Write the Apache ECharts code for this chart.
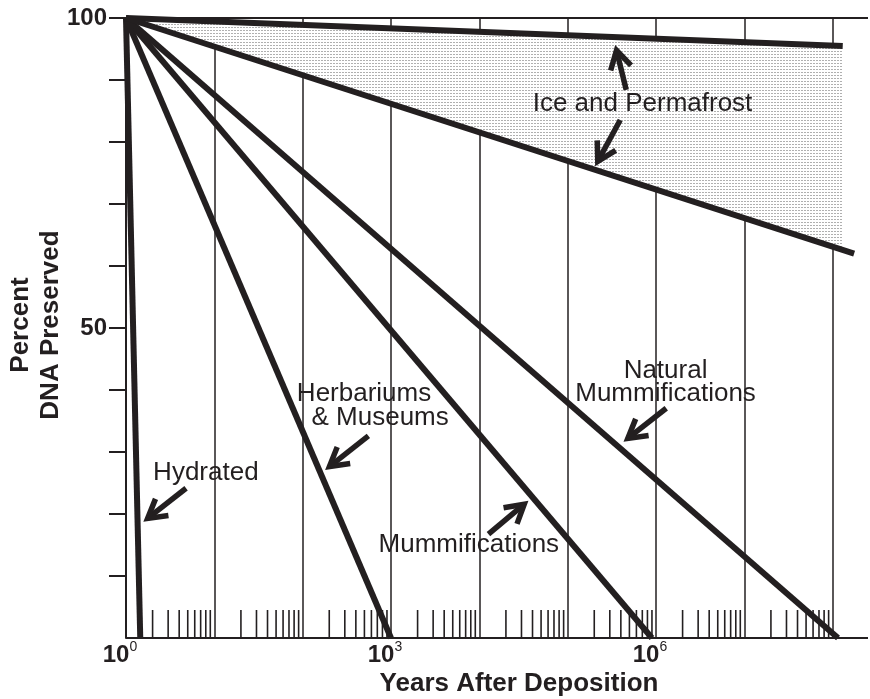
<!DOCTYPE html>
<html>
<head>
<meta charset="utf-8">
<title>DNA preservation over time</title>
<script src="https://cdn.jsdelivr.net/npm/echarts@6/dist/echarts.min.js"></script>
<style>
  html, body { margin: 0; padding: 0; background: #ffffff; }
  #chart { width: 870px; height: 699px; }
</style>
</head>
<body>
<div id="chart"></div>
<script>
// ---- Data: years after deposition vs. percent of DNA preserved ----
const hydratedYears = [1, 1.45];
const hydratedPct = [100, 0];
const herbariumYears = [1, 1000];
const herbariumPct = [100, 0];
const mummificationYears = [1, 9e5];
const mummificationPct = [100, 0];
const naturalMummYears = [1, 1.15e8];
const naturalMummPct = [100, 0];
const iceUpperYears = [1, 1.3e8];
const iceUpperPct = [100, 95.5];
const iceLowerYears = [1, 1.75e8];
const iceLowerPct = [100, 62];

// ---- Axis ticks ----
const xMaxExponent = 8.4;                 // axis runs 10^0 .. 10^8.4 years
const labelledExponents = [0, 3, 6];      // decades that carry a "10^n" label
const minorTickDecades = [0, 1, 2, 3, 4, 5, 6, 7];
const minorTickMultipliers = [2, 3, 4, 5, 6, 7, 8, 9];
const yTickValues = [10, 20, 30, 40, 50, 60, 70, 80, 90, 100];
const yTickLabels = [50, 100];

// ---- Annotations (x as log10 of years, y as percent) ----
const noteTexts = ['Ice and Permafrost', 'Natural\nMummifications', 'Herbariums', '& Museums', 'Hydrated', 'Mummifications'];
const noteAnchors = [[5.847, 86.1], [6.108, 41.2], [2.695, 39.35], [2.877, 35.45], [0.904, 26.7], [3.881, 15.1]];
// each arrow: [tailX, tailY, tipX, tipY]
const arrows = [
  [5.663, 88.4, 5.538, 95.65],
  [5.595, 83.55, 5.311, 76.1],
  [6.116, 37.05, 5.632, 31.65],
  [2.744, 32.6, 2.254, 27.1],
  [0.680, 24.15, 0.196, 18.75],
  [4.103, 16.75, 4.556, 22.15]
];

const INK = '#231f20';
const FONT = '"Liberation Sans", Arial, Helvetica, sans-serif';

const toPoints = (years, pct) => years.map((y, i) => [Math.log10(y), pct[i]]);

const minorTicks = [];
minorTickDecades.forEach(d => minorTickMultipliers.forEach(m => minorTicks.push([Math.log10(m * Math.pow(10, d))])));

// dotted screen used for the ice / permafrost band
function dotPattern() {
  const c = document.createElement('canvas');
  c.width = 3; c.height = 3;
  const g = c.getContext('2d');
  g.fillStyle = '#ffffff';
  g.fillRect(0, 0, 3, 3);
  g.fillStyle = '#b0b0b0';
  g.fillRect(0, 0, 2, 1);
  return c;
}

const upperPts = toPoints(iceUpperYears, iceUpperPct);
const lowerPts = toPoints(iceLowerYears, iceLowerPct);
function lowerAt(lx) {
  const [a, b] = lowerPts;
  return a[1] + (b[1] - a[1]) * (lx - a[0]) / (b[0] - a[0]);
}

const chart = echarts.init(document.getElementById('chart'), null, { renderer: 'canvas' });

const lineSeries = (name, years, pct) => ({
  name, type: 'line', data: toPoints(years, pct),
  showSymbol: false, silent: true, z: 5,
  lineStyle: { color: INK, width: 6, cap: 'butt' }
});

// horizontal frame line at a given percent level, across the whole x range
const frameLine = (level) => ({
  type: 'custom', silent: true, z: 4, clip: false,
  data: [[0, level]],
  renderItem: (params, api) => {
    const a = api.coord([0, level]);
    const b = api.coord([xMaxExponent, level]);
    return { type: 'line', shape: { x1: a[0], y1: a[1], x2: b[0], y2: b[1] }, style: { stroke: INK, lineWidth: 2 } };
  }
});

const option = {
  animation: false,
  backgroundColor: '#ffffff',
  grid: { left: 126, right: 2, top: 18, bottom: 61, outerBoundsMode: 'none' },
  xAxis: {
    type: 'value', min: 0, max: xMaxExponent, interval: 1,
    axisLine: { show: false },
    axisTick: { show: false },
    splitLine: { show: true, showMinLine: false, showMaxLine: false, lineStyle: { color: INK, width: 1.5 } },
    axisLabel: {
      showMaxLabel: false, margin: 2, padding: [0, 12, 0, 0],
      formatter: v => labelledExponents.includes(Math.round(v)) && Math.abs(v - Math.round(v)) < 1e-6 ? '{b|10}{s|' + Math.round(v) + '}' : '',
      rich: {
        b: { fontFamily: FONT, fontWeight: 'bold', fontSize: 24, color: INK, lineHeight: 30 },
        s: { fontFamily: FONT, fontSize: 14, color: INK, verticalAlign: 'top', lineHeight: 14 }
      }
    }
  },
  yAxis: {
    type: 'value', min: 0, max: 100, interval: 10,
    axisLine: { show: true, onZero: false, lineStyle: { color: INK, width: 2 } },
    axisTick: { show: false },
    splitLine: { show: false },
    axisLabel: {
      margin: 19, color: INK, fontFamily: FONT, fontWeight: 'bold', fontSize: 24,
      formatter: v => yTickLabels.includes(v) ? String(v) : ''
    }
  },
  series: [
    {
      // shaded band between the two ice / permafrost bounds
      type: 'custom', silent: true, z: 1, clip: true,
      data: [[0, 100]],
      renderItem: (params, api) => {
        const endX = upperPts[upperPts.length - 1][0];
        const poly = upperPts.concat([[endX, lowerAt(endX)], lowerPts[0]]).map(p => api.coord(p));
        return { type: 'polygon', shape: { points: poly }, style: { fill: { image: dotPattern(), repeat: 'repeat' } } };
      }
    },
    frameLine(100),
    frameLine(0),
    {
      // logarithmic minor ticks inside the x axis
      type: 'custom', silent: true, z: 3,
      data: minorTicks,
      encode: { x: 0 },
      renderItem: (params, api) => {
        const p = api.coord([api.value(0), 0]);
        return { type: 'line', shape: { x1: p[0], y1: p[1], x2: p[0], y2: p[1] - 28 }, style: { stroke: INK, lineWidth: 1.6 } };
      }
    },
    {
      // outward ticks on the percent axis (none at zero)
      type: 'custom', silent: true, z: 3, clip: false,
      data: yTickValues.map(v => [0, v]),
      encode: { x: 0, y: 1 },
      renderItem: (params, api) => {
        const p = api.coord([0, api.value(1)]);
        return { type: 'line', shape: { x1: p[0] - 17, y1: p[1], x2: p[0], y2: p[1] }, style: { stroke: INK, lineWidth: 2 } };
      }
    },
    lineSeries('Hydrated', hydratedYears, hydratedPct),
    lineSeries('Herbariums & Museums', herbariumYears, herbariumPct),
    lineSeries('Mummifications', mummificationYears, mummificationPct),
    lineSeries('Natural Mummifications', naturalMummYears, naturalMummPct),
    lineSeries('Ice and Permafrost (upper)', iceUpperYears, iceUpperPct),
    lineSeries('Ice and Permafrost (lower)', iceLowerYears, iceLowerPct),
    {
      // arrows pointing from the notes to their lines
      type: 'custom', silent: true, z: 6, clip: false,
      data: arrows,
      encode: { x: [0, 2], y: [1, 3] },
      renderItem: (params, api) => {
        const tail = api.coord([api.value(0), api.value(1)]);
        const tipRaw = api.coord([api.value(2), api.value(3)]);
        const w = 5.5;
        const dx = tipRaw[0] - tail[0], dy = tipRaw[1] - tail[1];
        const len = Math.hypot(dx, dy);
        const ux = dx / len, uy = dy / len;
        const ang = Math.PI / 6, head = 21;
        const tip = [tipRaw[0] - ux * w, tipRaw[1] - uy * w];
        const bx = -ux, by = -uy;
        const rot = a => [tip[0] + head * (bx * Math.cos(a) - by * Math.sin(a)), tip[1] + head * (bx * Math.sin(a) + by * Math.cos(a))];
        return {
          type: 'group',
          children: [
            { type: 'line', shape: { x1: tail[0], y1: tail[1], x2: tip[0], y2: tip[1] }, style: { stroke: INK, lineWidth: w, lineCap: 'butt' } },
            { type: 'polyline', shape: { points: [rot(ang), tip, rot(-ang)] }, style: { stroke: INK, fill: null, lineWidth: w, lineJoin: 'miter', miterLimit: 4 } }
          ]
        };
      }
    },
    {
      // note texts
      type: 'custom', silent: true, z: 7, clip: false,
      data: noteAnchors.map((p, i) => [p[0], p[1], i]),
      encode: { x: 0, y: 1 },
      renderItem: (params, api) => {
        const p = api.coord([api.value(0), api.value(1)]);
        const txt = noteTexts[api.value(2)];
        return {
          type: 'text', x: p[0], y: p[1],
          style: {
            text: txt, font: '26px ' + FONT, fill: INK, lineHeight: 23,
            textAlign: 'center', textVerticalAlign: 'middle', align: 'center', verticalAlign: 'middle'
          }
        };
      }
    }
  ],
  graphic: [
    {
      type: 'text', x: 519, y: 684,
      style: { text: 'Years After Deposition', font: 'bold 26px ' + FONT, fill: INK, textAlign: 'center', textVerticalAlign: 'middle' }
    },
    {
      type: 'text', x: 36, y: 325, rotation: Math.PI / 2,
      style: { text: 'Percent\nDNA Preserved', font: 'bold 26px ' + FONT, fill: INK, lineHeight: 30, textAlign: 'center', textVerticalAlign: 'middle' }
    }
  ]
};

chart.setOption(option);
</script>
</body>
</html>
